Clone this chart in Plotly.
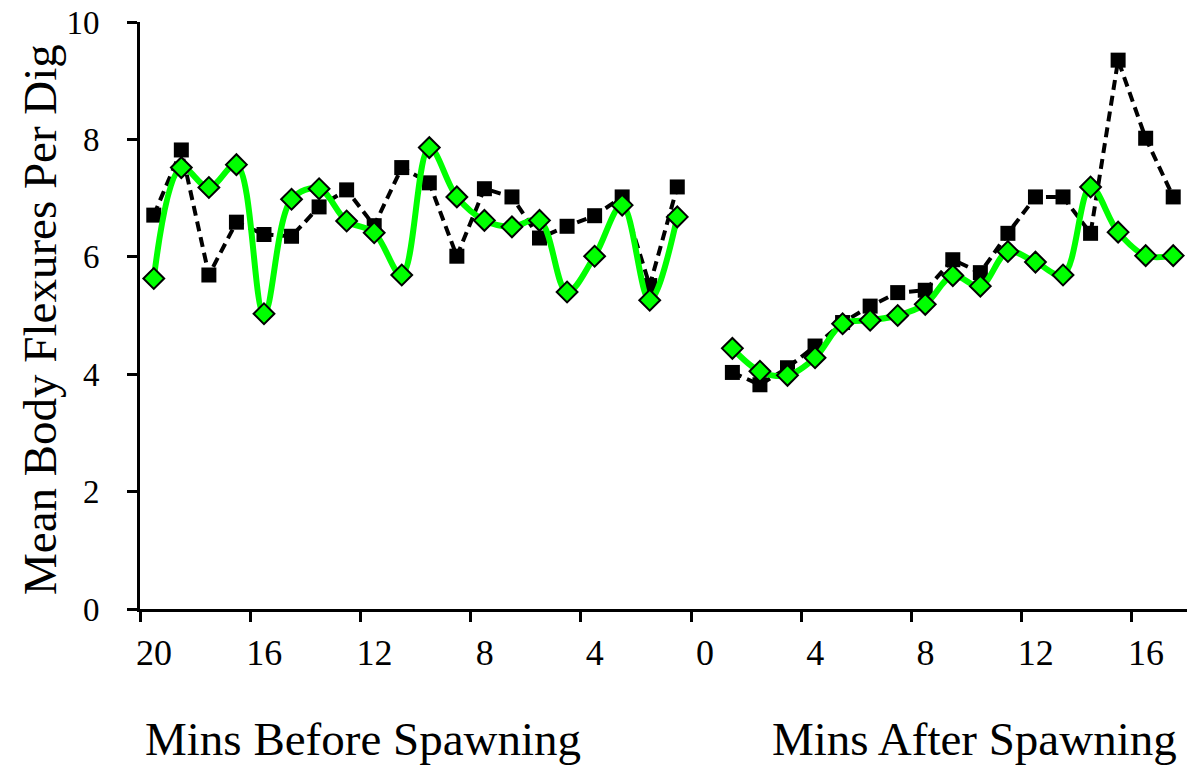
import plotly.graph_objects as go

# ---- data ----
mins_before = list(range(20, 0, -1))   # 20 ... 1 minutes before spawning
mins_after = list(range(1, 18))        # 1 ... 17 minutes after spawning

green_before = [5.63, 7.52, 7.18, 7.57, 5.03, 6.98, 7.16, 6.61, 6.41, 5.69,
                7.86, 7.02, 6.62, 6.51, 6.62, 5.40, 6.01, 6.88, 5.26, 6.68]
black_before = [6.71, 7.82, 5.69, 6.59, 6.38, 6.35, 6.85, 7.14, 6.53, 7.52,
                7.26, 6.01, 7.16, 7.02, 6.32, 6.52, 6.70, 7.02, 5.51, 7.19]
green_after = [4.44, 4.05, 3.98, 4.28, 4.86, 4.92, 5.00, 5.19, 5.68, 5.50,
               6.09, 5.91, 5.69, 7.19, 6.42, 6.02, 6.02]
black_after = [4.03, 3.82, 4.11, 4.48, 4.88, 5.16, 5.39, 5.43, 5.95, 5.73,
               6.40, 7.02, 7.02, 6.40, 9.35, 8.02, 7.02]

tick_mins = [-20, -16, -12, -8, -4, 0, 4, 8, 12, 16]
tick_labels = ["20", "16", "12", "8", "4", "0", "4", "8", "12", "16"]
y_ticks = [0, 2, 4, 6, 8, 10]

# relative time axis: negative before spawning, positive after; gap at 0
x_all = [-m for m in mins_before] + [0] + mins_after
green_all = green_before + [None] + green_after
black_all = black_before + [None] + black_after

FONT = "Liberation Serif, Times New Roman, serif"
W, H = 1201, 769
L, R, T, B = 140, 14, 22, 160
plot_w = W - L - R
plot_h = H - T - B
n_cat = len(mins_before) + 1 + len(mins_after)
half_cat_px = int(round(plot_w / n_cat / 2))

fig = go.Figure()
fig.add_trace(go.Scatter(
    x=x_all, y=black_all, mode="lines+markers", connectgaps=False,
    line=dict(color="black", width=4, dash="10px,6px"),
    marker=dict(symbol="square", size=15, color="black"),
    showlegend=False, name="Series 2"))
fig.add_trace(go.Scatter(
    x=x_all, y=green_all, mode="lines+markers", connectgaps=False,
    line=dict(color="#00FF00", width=6, shape="spline", smoothing=1.0),
    marker=dict(symbol="diamond", size=16, color="#00FF00",
                line=dict(color="black", width=2)),
    showlegend=False, name="Series 1"))

fig.update_xaxes(
    range=[x_all[0] - 0.5, x_all[-1] + 0.5],
    automargin=False,
    tickmode="array",
    tickvals=[t - 0.5 for t in tick_mins],
    ticktext=tick_labels,
    ticklabelshift=half_cat_px,
    ticks="outside", ticklen=10, tickwidth=3, tickcolor="black",
    showline=True, linewidth=3, linecolor="black",
    showgrid=False, zeroline=False,
    tickfont=dict(family=FONT, size=36, color="black"),
)
fig.update_yaxes(
    range=[0, 10],
    automargin=False,
    tickmode="array", tickvals=y_ticks,
    ticks="outside", ticklen=10, tickwidth=3, tickcolor="black",
    showline=True, linewidth=3, linecolor="black",
    showgrid=False, zeroline=False,
    ticklabelstandoff=21,
    tickfont=dict(family=FONT, size=33, color="black"),
)

def px_to_paper_x(px):
    return (px - L) / plot_w

def px_to_paper_y(py):
    return (H - B - py) / plot_h

fig.add_annotation(text="Mean Body Flexures Per Dig", textangle=-90,
                   x=px_to_paper_x(40), y=px_to_paper_y(320),
                   xref="paper", yref="paper", showarrow=False,
                   xanchor="center", yanchor="middle",
                   font=dict(family=FONT, size=47, color="black"))
fig.add_annotation(text="Mins Before Spawning",
                   x=px_to_paper_x(363), y=px_to_paper_y(739),
                   xref="paper", yref="paper", showarrow=False,
                   xanchor="center", yanchor="middle",
                   font=dict(family=FONT, size=47, color="black"))
fig.add_annotation(text="Mins After Spawning",
                   x=px_to_paper_x(974), y=px_to_paper_y(739),
                   xref="paper", yref="paper", showarrow=False,
                   xanchor="center", yanchor="middle",
                   font=dict(family=FONT, size=47, color="black"))

fig.update_layout(
    width=W, height=H,
    margin=dict(l=L, r=R, t=T, b=B, autoexpand=False),
    paper_bgcolor="white", plot_bgcolor="white",
    showlegend=False,
)

fig.write_html(
    "out.html",
    config={"displayModeBar": False},
    post_script="document.body.style.margin='0px';"
                "document.body.style.overflow='hidden';",
)
